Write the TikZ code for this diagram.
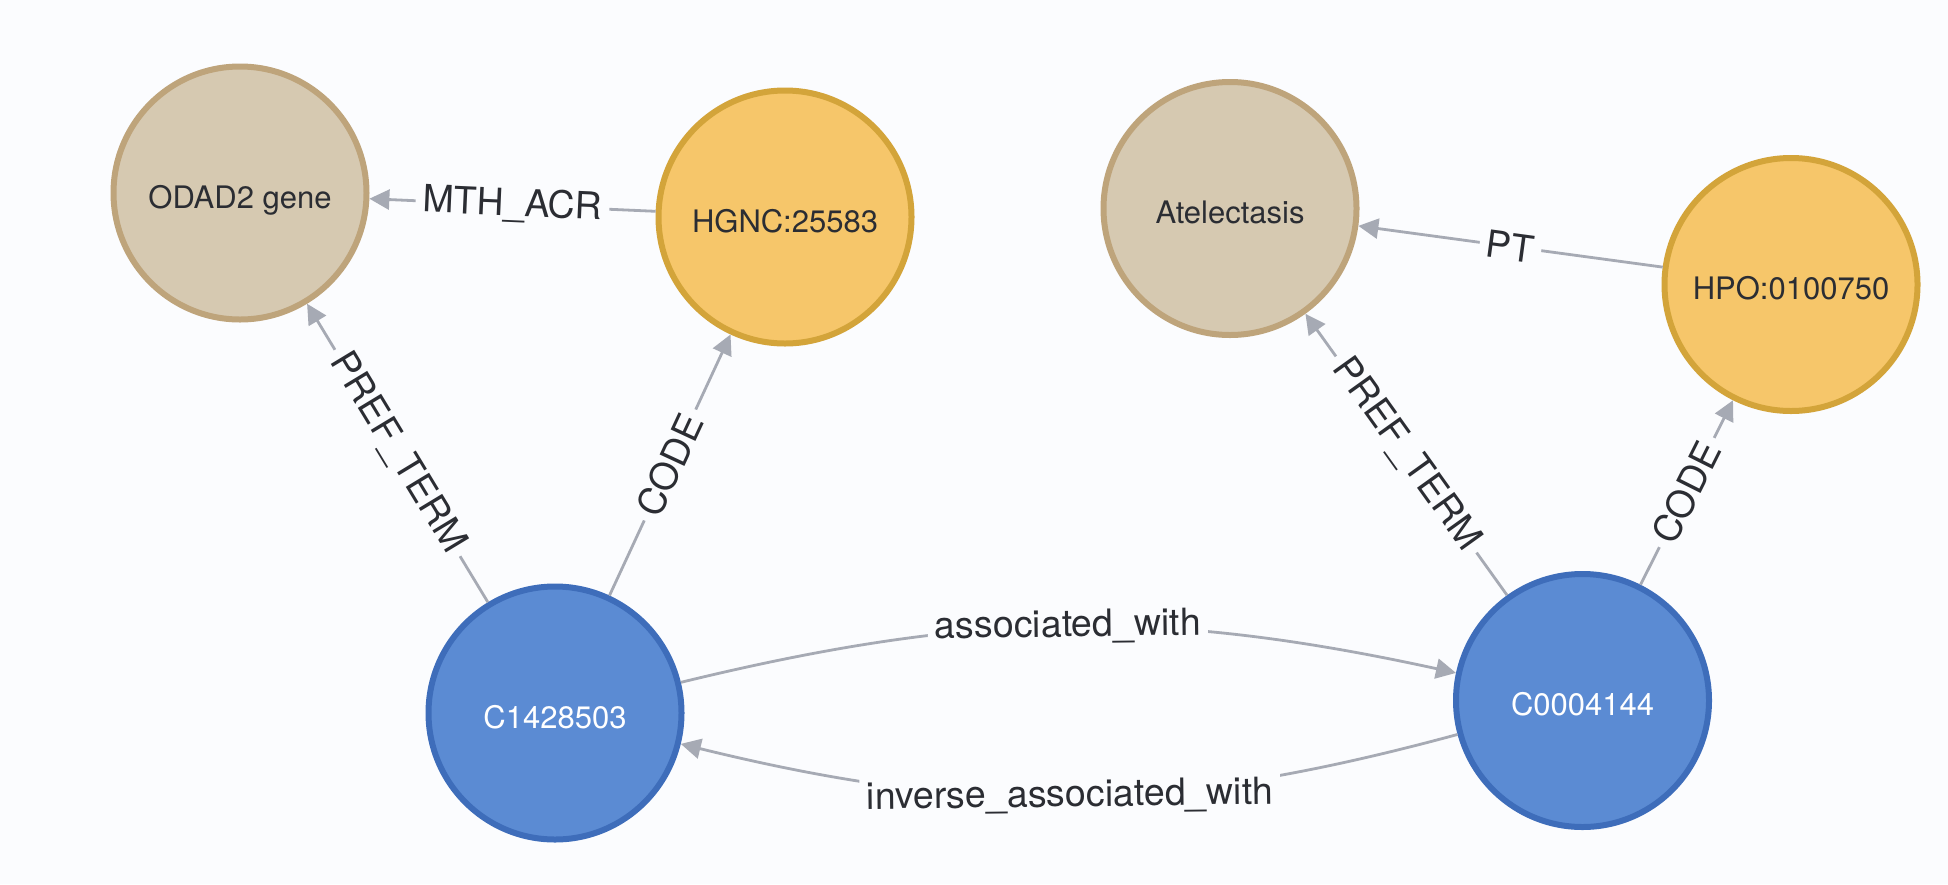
\documentclass[tikz,border=0pt]{standalone}
\usepackage{fontspec}
\setmainfont{TeX Gyre Heros}
\usetikzlibrary{arrows.meta}
\definecolor{bg}{HTML}{FBFCFE}
\definecolor{tanfill}{HTML}{D6C9B1}
\definecolor{tanline}{HTML}{BEA47B}
\definecolor{orfill}{HTML}{F6C66A}
\definecolor{orline}{HTML}{D3A43A}
\definecolor{bluefill}{HTML}{5B8BD3}
\definecolor{blueline}{HTML}{3E6DBA}
\definecolor{edgecol}{HTML}{A6AAB4}
\definecolor{txt}{HTML}{2B2D33}
\begin{document}
\begin{tikzpicture}[x=1pt,y=-1pt,
 nodebase/.style={circle, minimum size=253pt, inner sep=0pt, line width=6pt, text height=30pt, text depth=0pt, font=\fontsize{31}{37}\selectfont},
 tannode/.style={nodebase, fill=tanfill, draw=tanline, text=txt},
 ornode/.style={nodebase, fill=orfill, draw=orline, text=txt},
 bluenode/.style={nodebase, fill=bluefill, draw=blueline, text=white},
 rel/.style={draw=edgecol, line width=2.8pt, -{Triangle[length=20pt,width=20pt]}},
 elabel/.style={fill=bg, text=txt, inner sep=7pt, sloped, font=\fontsize{37.5}{44}\selectfont}
]
\fill[bg] (0,0) rectangle (1948,884);
\useasboundingbox (0,0) rectangle (1948,884);

\node[tannode] (odad) at (240,193) {ODAD2 gene};
\node[ornode] (hgnc) at (785,217) {HGNC:25583};
\node[tannode] (atel) at (1230,208.5) {Atelectasis};
\node[ornode] (hpo) at (1791,284.5) {HPO:0100750};
\node[bluenode] (c1) at (555,713) {C1428503};
\node[bluenode] (c2) at (1582.5,700.5) {C0004144};

\draw[rel] (hgnc) -- node[elabel]{MTH\_ACR} (odad);
\draw[rel] (hpo) -- node[elabel]{PT} (atel);
\draw[rel] (c1) -- node[elabel]{PREF\_TERM} (odad);
\draw[rel] (c1) -- node[elabel]{CODE} (hgnc);
\draw[rel] (c2) -- node[elabel]{PREF\_TERM} (atel);
\draw[rel] (c2) -- node[elabel]{CODE} (hpo);
\draw[rel] (c1) to[bend left=13] node[elabel]{associated\_with} (c2);
\draw[rel] (c2) to[bend left=14.5] node[elabel]{inverse\_associated\_with} (c1);
\end{tikzpicture}
\end{document}
